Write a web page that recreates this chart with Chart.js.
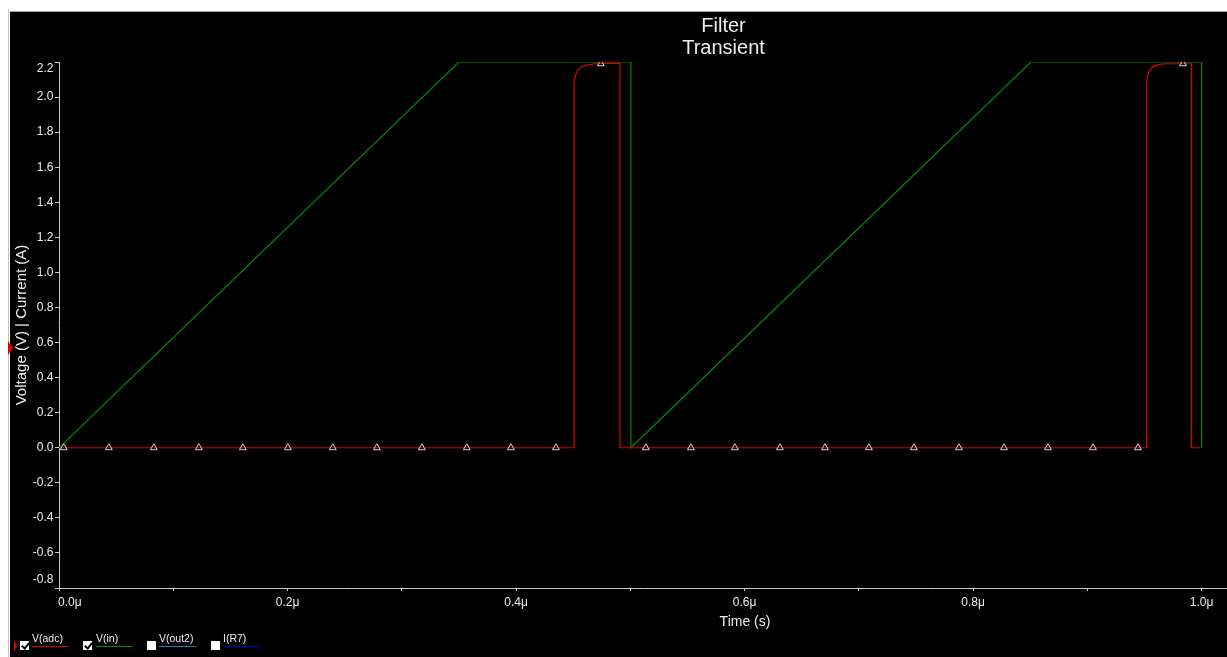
<!DOCTYPE html>
<html>
<head>
<meta charset="utf-8">
<script src="https://cdn.jsdelivr.net/npm/chart.js@4.4.1/dist/chart.umd.min.js"></script>
<style>
  html, body { margin: 0; padding: 0; background: #fff; width: 1227px; height: 657px; overflow: hidden;
    font-family: "Liberation Sans", Arial, sans-serif; }
  #edgeL { position: absolute; left: 8px; top: 9px; width: 1px; height: 648px; background: #c4c4c4; }
  #edgeT { position: absolute; left: 10px; top: 11px; width: 1217px; height: 1px; background: #9c9c9c; }
  #frame { position: absolute; left: 10px; top: 12px; width: 1217px; height: 645px; background: #000; }
  #frame canvas { position: absolute; left: 0; top: 0; }
  .cursor { position: absolute; width: 0; height: 0; border-style: solid; border-color: transparent transparent transparent #e00000; }
  .box { position: absolute; top: 641px; width: 9px; height: 9px; background: #fff; }
  .box.on::after { content: ""; position: absolute; left: 3px; top: 0px; width: 3px; height: 6px;
    border-right: 2px solid #000; border-bottom: 2px solid #000; transform: rotate(40deg); }
  .lbl { position: absolute; top: 632px; font-size: 10.5px; line-height: 12px; color: #ececf2; white-space: nowrap; }
  .swatch { position: absolute; top: 646px; width: 37px; height: 1px; }
</style>
</head>
<body>
<div id="edgeL"></div>
<div id="edgeT"></div>
<div id="frame"><canvas id="plot" width="1217" height="645"></canvas></div>

<!-- y-axis cursor mark and legend -->
<div class="cursor" style="left:8px; top:341px; border-width:7px 0 7px 5px;"></div>
<div class="cursor" style="left:14px; top:640px; border-width:6px 0 6px 3px;"></div>

<div class="box on" style="left:20px;"></div>
<div class="lbl" style="left:32px;">V(adc)</div>
<div class="swatch" style="left:32px; background:#d80000;"></div>

<div class="box on" style="left:83px;"></div>
<div class="lbl" style="left:96px;">V(in)</div>
<div class="swatch" style="left:96px; background:#008a00;"></div>

<div class="box" style="left:147px;"></div>
<div class="lbl" style="left:159px;">V(out2)</div>
<div class="swatch" style="left:159px; background:#1a7fc0;"></div>

<div class="box" style="left:211px;"></div>
<div class="lbl" style="left:223px;">I(R7)</div>
<div class="swatch" style="left:223px; background:#0000c8;"></div>

<script>
// Time axis in microseconds
const xMin = 0;
const xMax = 1.0222;
const yMin = -0.8;
const yMax = 2.2;

// V(in): ramp input, two cycles
const vinTime  = [0, 0.350, 0.5005, 0.5005, 0.8506, 1.0000, 1.0000];
const vinValue = [0, 2.200, 2.200,  0,      2.200,  2.200,  0];

// V(adc): filtered / sampled output
const vadcTime  = [0, 0.4507, 0.4507, 0.4523, 0.4535, 0.4552, 0.4582, 0.4631, 0.4690, 0.4792, 0.4909, 0.4909,
                   0.9519, 0.9519, 0.9527, 0.9541, 0.9562, 0.9591, 0.9635, 0.9694, 0.9912, 0.9912, 1.0000];
const vadcValue = [0, 0,      2.085,  2.129,  2.148,  2.161,  2.176,  2.184,  2.190,  2.192,  2.192,  0,
                   0,      2.082,  2.123,  2.148,  2.167,  2.179,  2.186,  2.190,  2.190,  0,      0];

// Trace markers on V(adc)
const markTime  = [0.0042, 0.0436, 0.0830, 0.1224, 0.1609, 0.2003, 0.2396, 0.2782, 0.3176, 0.3569, 0.3955, 0.4349, 0.4742,
                   0.5136, 0.5530, 0.5915, 0.6309, 0.6703, 0.7088, 0.7482, 0.7876, 0.8270, 0.8655, 0.9049, 0.9443, 0.9837];
const markValue = [0, 0, 0, 0, 0, 0, 0, 0, 0, 0, 0, 0, 2.190,
                   0, 0, 0, 0, 0, 0, 0, 0, 0, 0, 0, 0, 2.190];

const titleLines = ['Filter', 'Transient'];
const xTitle = 'Time (s)';
const yTitle = 'Voltage (V) | Current (A)';

const pts = (t, v) => t.map((x, i) => ({ x: x, y: v[i] }));

const FONT = '"Liberation Sans", Arial, sans-serif';
const TEXT = '#ececf2';
const AXIS = '#c8c8c8';

// Black backdrop, titles and clamped tick labels
const decor = {
  id: 'decor',
  beforeDraw(chart) {
    const c = chart.ctx;
    c.save();
    c.fillStyle = '#000';
    c.fillRect(0, 0, chart.width, chart.height);
    c.restore();
  },
  afterDraw(chart) {
    const c = chart.ctx;
    const area = chart.chartArea;
    const xs = chart.scales.x, ys = chart.scales.y;
    c.save();
    c.fillStyle = TEXT;

    // chart title
    c.font = '20px ' + FONT;
    c.textAlign = 'center';
    c.textBaseline = 'middle';
    c.fillText(titleLines[0], 713.5, 14.5);
    c.fillText(titleLines[1], 713.5, 36.5);

    // y tick labels
    c.font = '12px ' + FONT;
    c.textAlign = 'right';
    c.textBaseline = 'middle';
    ys.ticks.forEach(t => {
      let y = ys.getPixelForValue(t.value);
      y = Math.min(Math.max(y, area.top + 7), area.bottom - 8);
      c.fillText(t.value.toFixed(1), 43.5, y);
    });

    // x tick labels on every other tick
    c.textAlign = 'left';
    c.textBaseline = 'middle';
    xs.ticks.forEach(t => {
      if (Math.round(t.value * 10) % 2 !== 0) return;
      const s = t.value.toFixed(1) + 'μ';
      const w = c.measureText(s).width;
      let x = xs.getPixelForValue(t.value) - w / 2;
      x = Math.max(x, area.left - 1);
      c.fillText(s, x, area.bottom + 15);
    });

    // axis titles
    c.font = '14px ' + FONT;
    c.textAlign = 'center';
    c.fillText(xTitle, 735, 610);
    c.save();
    c.translate(12, 313);
    c.rotate(-Math.PI / 2);
    c.font = '15px ' + FONT;
    c.fillText(yTitle, 0, 0);
    c.restore();

    c.restore();
  }
};

new Chart(document.getElementById('plot'), {
  type: 'line',
  data: {
    datasets: [
      {
        label: 'markers',
        data: pts(markTime, markValue),
        showLine: false,
        pointStyle: 'triangle',
        pointRadius: 4,
        pointBorderWidth: 1,
        pointBorderColor: '#d4d4d4',
        pointBackgroundColor: 'rgba(0,0,0,0)',
        order: 0
      },
      {
        label: 'V(adc)',
        data: pts(vadcTime, vadcValue),
        borderColor: '#dc0000',
        borderWidth: 1.2,
        pointRadius: 0,
        tension: 0,
        order: 1
      },
      {
        label: 'V(in)',
        data: pts(vinTime, vinValue),
        borderColor: '#008a00',
        borderWidth: 1.2,
        pointRadius: 0,
        tension: 0,
        order: 2
      }
    ]
  },
  options: {
    responsive: false,
    animation: false,
    events: [],
    layout: { autoPadding: false, padding: { left: 0, top: 50, right: 0, bottom: 0 } },
    plugins: { legend: { display: false }, title: { display: false }, tooltip: { enabled: false } },
    scales: {
      x: {
        type: 'linear',
        min: xMin,
        max: xMax,
        bounds: 'data',
        afterFit: s => { s.height = 69; },
        ticks: { display: false, stepSize: 0.1, includeBounds: false, autoSkip: false },
        grid: { drawOnChartArea: false, drawTicks: true, tickLength: 3, color: AXIS },
        border: { display: true, color: AXIS, width: 1 }
      },
      y: {
        type: 'linear',
        min: yMin,
        max: yMax,
        bounds: 'data',
        afterFit: s => { s.width = 49; },
        ticks: { display: false, stepSize: 0.2, autoSkip: false },
        grid: { drawOnChartArea: false, drawTicks: true, tickLength: 4, color: AXIS },
        border: { display: true, color: AXIS, width: 1 }
      }
    }
  },
  plugins: [decor]
});
</script>
</body>
</html>
